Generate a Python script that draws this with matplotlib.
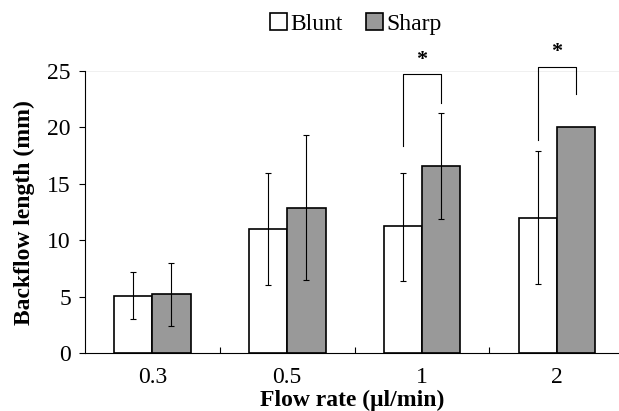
import numpy as np
import matplotlib.pyplot as plt

categories = ['0.3', '0.5', '1', '2']
blunt = [5.1, 11.0, 11.3, 12.0]
blunt_lo = [3.0, 6.0, 6.4, 6.1]
blunt_hi = [7.2, 16.0, 16.0, 17.9]
sharp = [5.2, 12.9, 16.6, 20.0]
sharp_lo = [2.4, 6.5, 11.9, 20.0]
sharp_hi = [8.0, 19.3, 21.3, 20.0]

# significance brackets: (category index, left bottom, top, right bottom)
brackets = [(2, 18.35, 24.7, 22.2), (3, 18.9, 25.4, 23.0)]

plt.rcParams['font.family'] = ['Liberation Serif', 'DejaVu Serif']

fig = plt.figure(figsize=(6.19, 4.11), dpi=100)
ax = fig.add_axes([0.137, 0.141, 0.863, 0.686])

x = np.arange(len(categories))
w = 0.285
bl = np.array(blunt)
sh = np.array(sharp)
ax.bar(x - w / 2, bl, w, color='white', edgecolor='black', linewidth=1.2, label='Blunt', zorder=2)
ax.bar(x + w / 2, sh, w, color='#999999', edgecolor='black', linewidth=1.2, label='Sharp', zorder=2)

ax.errorbar(x - w / 2, bl, yerr=[bl - np.array(blunt_lo), np.array(blunt_hi) - bl],
            fmt='none', ecolor='black', elinewidth=0.8, capsize=2.5, capthick=0.8, zorder=3)
sh_err = [sh - np.array(sharp_lo), np.array(sharp_hi) - sh]
ax.errorbar(x[:3] + w / 2, sh[:3], yerr=[e[:3] for e in sh_err],
            fmt='none', ecolor='black', elinewidth=0.8, capsize=2.5, capthick=0.8, zorder=3)

for i, lb, top, rb in brackets:
    xl, xr = i - w / 2, i + w / 2
    ax.plot([xl, xl, xr, xr], [lb, top, top, rb], color='black', lw=0.8, clip_on=False)
    ax.text(i, top + 0.4, '*', ha='center', va='bottom', fontsize=16, fontweight='bold')

ax.set_xlim(-0.5, 3.46)
ax.set_ylim(0, 25)
ax.set_yticks(range(0, 26, 5))
ax.axhline(25, color='#eeeeee', lw=0.6, zorder=0)
ax.set_xticks(x)
ax.set_xticklabels(categories, fontsize=17)
ax.tick_params(axis='x', length=0, pad=10)
ax.set_xticks([0.5, 1.5, 2.5], minor=True)
ax.tick_params(axis='x', which='minor', direction='in', length=4, width=0.8)
ax.tick_params(axis='y', labelsize=17, direction='out', length=4, width=0.8, pad=6)

for s in ['top', 'right']:
    ax.spines[s].set_visible(False)
for s in ['left', 'bottom']:
    ax.spines[s].set_linewidth(0.8)

ax.set_ylabel('Backflow length (mm)', fontsize=17, fontweight='bold', labelpad=9)
ax.set_xlabel('Flow rate (μl/min)', fontsize=17, fontweight='bold', labelpad=1)

fig.legend(loc='upper center', bbox_to_anchor=(0.575, 1.02), ncol=2, frameon=False,
           fontsize=17, handlelength=0.7, handleheight=0.7, handletextpad=0.15,
           columnspacing=1.0)

fig.savefig('out.png', dpi=100)
